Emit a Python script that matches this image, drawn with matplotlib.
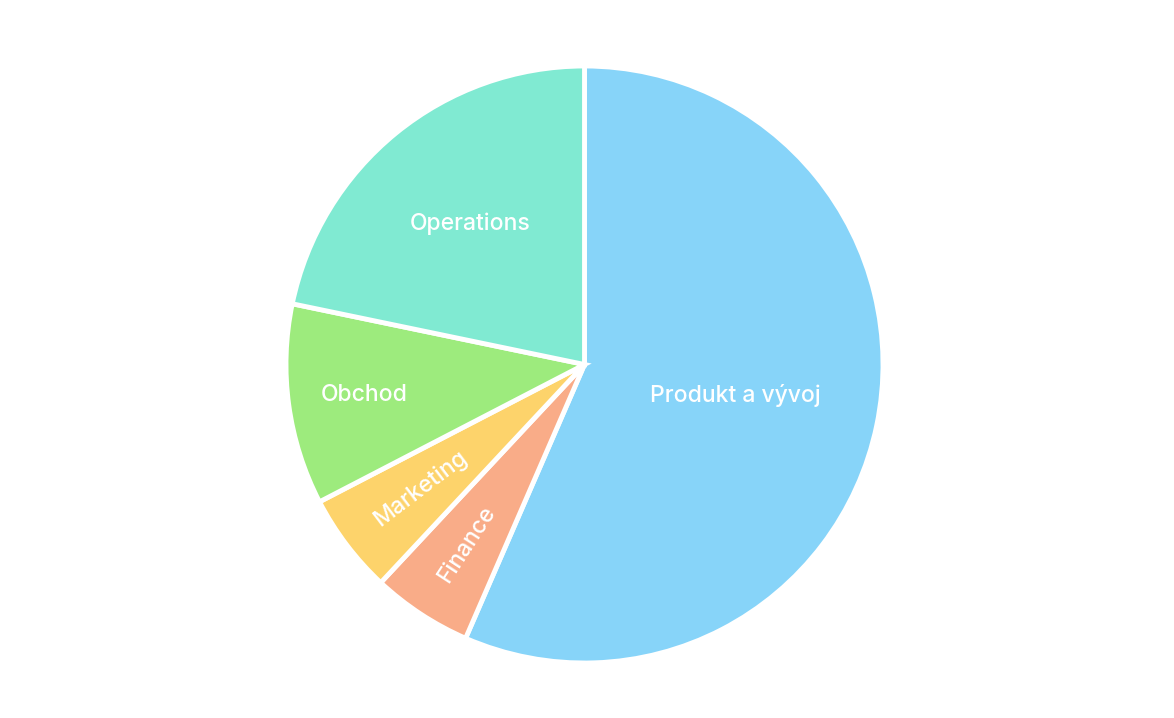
import numpy as np
import matplotlib
matplotlib.use("Agg")
import matplotlib.pyplot as plt

categories = ["Produkt a vývoj", "Finance", "Marketing", "Obchod", "Operations"]
values = [52, 5, 5, 10, 20]
colors = ["#87D4F9", "#F9AC88", "#FDD36B", "#9DEB7D", "#80EAD2"]
label_radius = [0.515, 0.72, 0.69, 0.744, 0.606]
rotate_label = [False, True, True, False, False]

W, H = 1174, 718
fig = plt.figure(figsize=(W / 100, H / 100), dpi=100)
cx, cy, R = 584.5, 364.5, 298.5
ax = fig.add_axes([(cx - R) / W, (H - cy - R) / H, 2 * R / W, 2 * R / H])

wedges, _ = ax.pie(values, colors=colors, startangle=90, counterclock=False, radius=1,
                   wedgeprops=dict(edgecolor="white", linewidth=3.5))
ax.set_xlim(-1, 1)
ax.set_ylim(-1, 1)
ax.set_aspect("equal")
ax.axis("off")

total = sum(values)
start = 90.0
for cat, v, rf, rot in zip(categories, values, label_radius, rotate_label):
    sweep = 360.0 * v / total
    mid = start - sweep / 2
    start -= sweep
    th = np.deg2rad(mid)
    x, y = rf * np.cos(th), rf * np.sin(th)
    angle = 0
    if rot:
        angle = (mid + 180) % 360 - 180
        if angle > 90:
            angle -= 180
        elif angle < -90:
            angle += 180
    ax.text(x, y, cat, ha="center", va="center", color="white", fontsize=16.5,
            family="Inter", fontweight="medium", rotation=angle, rotation_mode="anchor")

fig.savefig("out.png", dpi=100)
